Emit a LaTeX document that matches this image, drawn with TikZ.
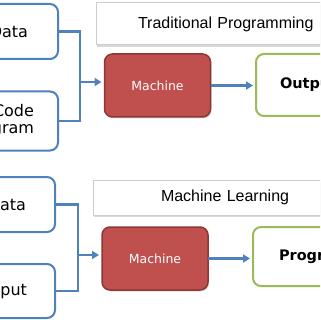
\documentclass[tikz,border=0pt]{standalone}
\usepackage{fontspec}
\setmainfont{DejaVu Sans}
\newfontfamily\titlefont{Liberation Sans}
\usetikzlibrary{arrows.meta,positioning,shadows}
\definecolor{mlblue}{RGB}{79,129,189}
\definecolor{mlred}{RGB}{192,80,77}
\definecolor{mlredline}{RGB}{140,56,54}
\definecolor{mlgreen}{RGB}{155,187,89}
\definecolor{mlgray}{RGB}{205,205,205}

\begin{document}
\begin{tikzpicture}[x=1pt,y=-1pt,
    inbox/.style={draw=mlblue,line width=2pt,fill=white,rounded corners=8pt,anchor=east,outer sep=0pt,
      text width=100pt,align=right,font=\fontsize{16}{17}\selectfont},
    machbox/.style={draw=mlredline,line width=1.5pt,fill=mlred,rounded corners=8pt,text=white,
      minimum width=106pt,minimum height=63pt,outer sep=0pt,font=\fontsize{12.5}{14}\selectfont,
      drop shadow={opacity=.25,shadow xshift=1pt,shadow yshift=-1.5pt}},
    outbox/.style={draw=mlgreen,line width=2pt,fill=white,rounded corners=8pt,anchor=west,outer sep=0pt,
      text width=100pt,align=left,font=\bfseries\fontsize{14.5}{17}\selectfont},
    titlebox/.style={draw=mlgray,line width=1pt,fill=white,anchor=west,outer sep=0pt,
      text width=240pt,align=left,font=\titlefont\fontsize{16}{18}\selectfont,
      drop shadow={opacity=.3,shadow xshift=1pt,shadow yshift=-2pt}},
    link/.style={mlblue,line width=2.5pt},
    arrow/.style={link,-{Triangle[length=7pt,width=8pt]},shorten >=3pt}]
  \useasboundingbox (0,0) rectangle (320,320);
  \clip (0,0) rectangle (320,320);
  \fill[white] (0,0) rectangle (320,320);

  \node[titlebox,inner xsep=42pt,minimum height=42pt] (titleA) at (96,24) {Traditional Programming};
  \node[inbox,inner xsep=30pt,minimum height=55pt] (dataA) at (58,31.5) {Data};
  \node[inbox,inner xsep=24pt,minimum height=59pt] (codeA) at (58,121) {Code\\Program};
  \node[machbox] (machA) at (157.5,85.5) {Machine};
  \node[outbox,inner xsep=24pt,minimum height=62pt] (outA) at (256,85) {Output};
  \coordinate (joinA) at (80,82);
  \draw[link] (dataA.east) -| (joinA) |- (codeA.east);
  \draw[arrow] (joinA) -- (joinA -| machA.west);
  \draw[arrow] (machA.east) -- (machA.east -| outA.west);

  \node[titlebox,inner xsep=68pt,minimum height=35pt] (titleB) at (93,197.5) {Machine Learning};
  \node[inbox,inner xsep=29pt,minimum height=55pt] (dataB) at (55,204.5) {Data};
  \node[inbox,inner xsep=28pt,minimum height=54pt] (resB) at (55,291) {Output};
  \node[machbox] (machB) at (155,258.5) {Machine};
  \node[outbox,inner xsep=26pt,minimum height=59pt] (progB) at (253,256.5) {Program};
  \coordinate (joinB) at (78,255);
  \draw[link] (dataB.east) -| (joinB) |- (resB.east);
  \draw[arrow] (joinB) -- (joinB -| machB.west);
  \draw[arrow] (machB.east) -- (machB.east -| progB.west);
\end{tikzpicture}
\end{document}
